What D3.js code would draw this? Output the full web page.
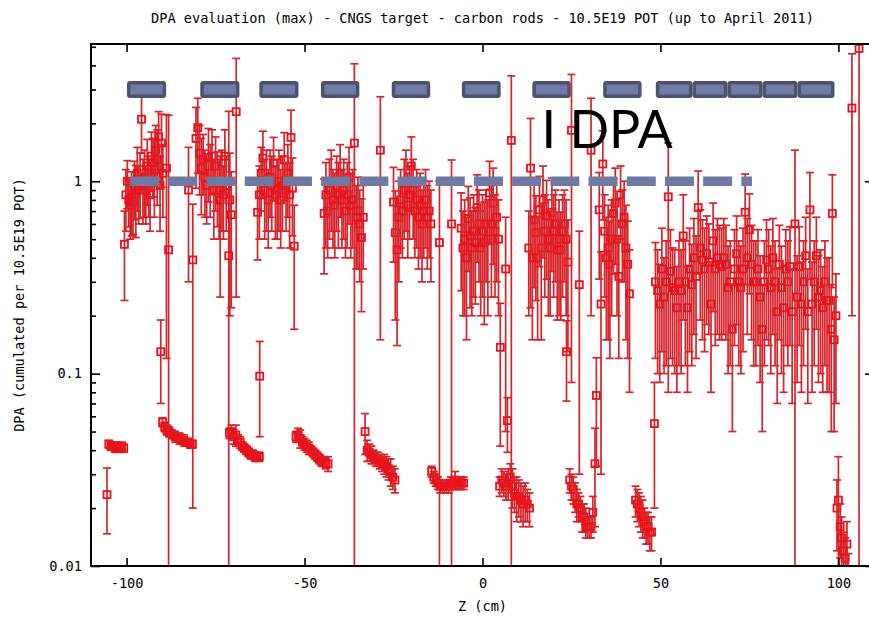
<!DOCTYPE html>
<html>
<head>
<meta charset="utf-8">
<script src="https://cdn.jsdelivr.net/npm/d3@7"></script>
<style>
  body { margin: 0; background: #fff; }
  svg { display: block; }
  .mono { font-family: "DejaVu Sans Mono", monospace; font-size: 13.6px; fill: #000; }
</style>
</head>
<body>
<div id="chart"></div>
<script>
// ---- tick values / labels
var xTicks = [-100, -50, 0, 50, 100];
var yTicks = [0.01, 0.1, 1];
var yTickLabels = ["0.01", "0.1", "1"];
var yMinorTicks = [0.02, 0.03, 0.04, 0.05, 0.06, 0.07, 0.08, 0.09,
                   0.2, 0.3, 0.4, 0.5, 0.6, 0.7, 0.8, 0.9, 2, 3, 4, 5];

// ---- annotations: rod boxes along the top, the 1 DPA dashed line
var boxSpans = [[-99.9, -88.9], [-79.3, -68.3], [-62.7, -51.7], [-45.4, -34.6],
                [-25.5, -14.7], [-5.8, 5.1], [14.0, 24.8], [33.9, 44.7],
                [48.7, 59.0], [59.0, 68.8], [68.8, 78.7], [78.7, 88.5], [88.5, 98.9]];
var boxLevel = 3;
var dashSpan = [-99, 75.7];
var dashLevel = 1;
var dpaLabel = "I DPA";
var dpaLabelPos = [16.6, 1.49];

// ---- data: [z (cm), DPA, error]
// upper clusters (one per rod)
var rodUpper = [
  // rod 1
  [-100.6,0.47,0.23],[-100.2,0.85,0.30],[-99.8,1.00,0.28],[-99.4,0.80,0.22],[-99.0,0.75,0.25],
  [-98.6,0.82,0.30],[-98.2,0.78,0.25],[-97.8,0.95,0.32],[-97.4,0.86,0.35],[-97.0,1.10,0.40],
  [-96.6,0.90,0.30],[-96.2,1.02,0.38],[-95.8,2.10,0.70],[-95.4,0.95,0.35],[-95.0,1.05,0.40],
  [-94.6,0.90,0.30],[-94.2,1.20,0.45],[-93.8,1.00,0.35],[-93.4,0.85,0.30],[-93.0,1.35,0.45],
  [-92.6,1.25,0.42],[-92.2,1.15,0.50],[-91.8,1.45,0.50],[-91.4,1.30,0.55],[-91.0,1.70,0.60],
  [-90.6,0.95,0.40],[-90.2,1.58,0.65],[-89.8,1.10,0.45],
  // rod 2
  [-82.6,0.90,0.60],[-80.5,1.67,0.75],[-80.0,1.90,0.80],[-79.5,1.40,0.55],[-79.0,1.17,0.50],
  [-78.5,1.30,0.45],[-78.0,1.05,0.40],[-77.5,0.95,0.35],[-77.0,1.33,0.55],[-76.5,1.10,0.45],
  [-76.0,1.35,0.50],[-75.5,0.90,0.40],[-75.0,1.20,0.50],[-74.5,1.00,0.42],[-74.0,0.90,0.40],
  [-73.7,0.80,0.55],[-73.2,1.00,0.45],[-72.8,0.85,0.35],[-72.4,1.35,0.50],[-72.0,0.95,0.40],
  [-71.0,0.80,0.60],[-70.6,0.67,0.45],
  // rod 3
  [-63.2,0.69,0.30],[-62.7,0.85,0.35],[-62.2,1.10,0.40],[-61.7,1.32,0.50],[-61.2,0.90,0.40],
  [-60.7,1.00,0.45],[-60.2,0.80,0.35],[-59.7,1.05,0.40],[-59.2,0.95,0.40],[-58.7,1.24,0.45],
  [-58.2,0.85,0.35],[-57.7,0.90,0.40],[-57.2,1.00,0.45],[-56.7,0.80,0.35],[-56.2,0.95,0.40],
  [-55.7,1.29,0.50],[-55.2,0.90,0.35],[-54.7,1.10,0.45],[-54.2,0.85,0.40],[-53.8,1.69,0.65],
  [-53.4,0.92,0.40],
  // rod 4
  [-44.5,0.68,0.35],[-44.0,0.85,0.40],[-43.5,0.70,0.30],[-43.0,0.90,0.40],[-42.5,1.00,0.45],
  [-42.0,0.80,0.35],[-41.5,0.75,0.35],[-41.0,0.95,0.40],[-40.5,0.85,0.40],[-40.0,1.10,0.45],
  [-39.5,0.80,0.35],[-39.0,0.90,0.40],[-38.5,0.70,0.30],[-38.0,0.85,0.40],[-37.5,1.05,0.45],
  [-37.0,0.75,0.35],[-36.5,0.80,0.35],[-35.5,0.65,0.30],[-35.0,0.70,0.35],[-34.5,0.60,0.30],
  [-34.0,0.51,0.30],[-33.5,0.65,0.30],
  // rod 5
  [-25.0,0.78,0.40],[-24.5,0.54,0.35],[-24.0,0.44,0.30],[-23.5,0.65,0.35],[-23.0,0.80,0.35],
  [-22.5,0.70,0.30],[-22.0,0.90,0.40],[-21.5,1.00,0.45],[-21.0,0.75,0.35],[-20.5,0.85,0.35],
  [-20.0,1.20,0.50],[-19.5,0.90,0.40],[-19.0,0.70,0.30],[-18.5,0.80,0.35],[-18.0,0.65,0.30],
  [-17.5,0.75,0.35],[-17.0,0.60,0.30],[-16.5,0.70,0.30],[-16.0,0.80,0.35],[-15.5,0.65,0.30],
  [-15.0,0.70,0.30],[-14.5,0.60,0.30],
  // rod 6
  [-6.0,0.57,0.30],[-5.5,0.45,0.25],[-5.0,0.50,0.30],[-4.5,0.40,0.25],[-4.0,0.64,0.30],
  [-3.5,0.52,0.30],[-3.0,0.45,0.25],[-2.5,0.55,0.30],[-2.0,0.48,0.25],[-1.5,0.73,0.35],
  [-1.0,0.60,0.30],[-0.5,0.45,0.25],[0.0,0.55,0.30],[0.5,0.48,0.30],[1.0,0.60,0.30],
  [1.5,0.50,0.30],[2.0,0.87,0.40],[2.5,0.60,0.35],[3.0,0.77,0.40],[3.5,0.55,0.30],
  [4.0,0.65,0.35],[4.5,0.50,0.30],
  // rod 7
  [13.0,0.45,0.25],[14.0,0.40,0.25],[14.5,0.63,0.35],[15.0,0.54,0.30],[15.5,0.40,0.25],
  [16.0,0.71,0.35],[16.5,0.45,0.30],[17.0,0.80,0.40],[17.5,0.55,0.30],[18.0,0.66,0.35],
  [18.5,0.50,0.30],[19.0,0.45,0.25],[19.5,0.69,0.35],[20.0,0.55,0.30],[20.5,0.60,0.30],
  [21.0,0.44,0.25],[21.5,0.50,0.30],[22.0,0.44,0.25],[22.5,0.55,0.30],[23.0,0.60,0.30],
  [23.5,0.50,0.30],[24.0,0.38,0.25],
  // rod 8
  [32.8,0.71,0.40],[33.3,0.23,0.20],[33.8,1.23,0.60],[34.3,0.55,0.30],[34.8,0.40,0.25],
  [35.3,0.45,0.30],[35.8,0.37,0.25],[36.3,0.50,0.30],[36.8,0.68,0.35],[37.3,0.77,0.40],
  [37.8,0.50,0.30],[38.3,0.32,0.20],[38.8,0.85,0.35],[39.3,0.60,0.30],[39.8,0.65,0.35],
  [40.3,0.45,0.30],[40.8,0.37,0.25],[41.3,0.26,0.18],
  // rod 9
  [48.6,0.30,0.18],[49.2,0.27,0.17],[49.8,0.23,0.14],[50.4,0.35,0.22],[51.0,0.25,0.15],
  [51.6,0.30,0.19],[52.2,0.83,0.75],[52.8,0.34,0.22],[53.4,0.28,0.17],[54.0,0.27,0.17],
  [54.6,0.22,0.14],[55.2,0.30,0.19],[55.8,0.27,0.17],[56.4,0.52,0.33],[57.0,0.30,0.19],
  [57.6,0.22,0.14],[58.2,0.35,0.22],[58.8,0.29,0.18],[59.4,0.40,0.24],[60.0,0.32,0.20],
  [60.6,0.73,0.40],[61.2,0.45,0.26],[61.8,0.39,0.24],[62.4,0.35,0.22],[63.0,0.42,0.24],
  [63.6,0.38,0.22],[64.2,0.23,0.15],[64.8,0.49,0.28],[65.4,0.35,0.21],[66.0,0.40,0.24],
  [66.6,0.37,0.22],[67.2,0.36,0.21],[67.8,0.40,0.24],[68.4,0.37,0.22],[69.0,0.28,0.18],
  [69.6,0.30,0.19],[70.2,0.17,0.12],[70.8,0.35,0.21],[71.4,0.42,0.24],[72.0,0.30,0.19],
  [72.6,0.28,0.18],[73.2,0.35,0.22],[73.8,0.69,0.40],[74.4,0.40,0.24],[75.0,0.56,0.30],
  [75.6,0.37,0.22],[76.2,0.30,0.19],[76.8,0.30,0.19],[77.4,0.35,0.21],[78.0,0.25,0.16],
  [78.6,0.17,0.12],[79.2,0.30,0.19],[79.8,0.39,0.24],[80.4,0.35,0.21],[81.0,0.28,0.18],
  [81.6,0.40,0.24],[82.2,0.30,0.19],[82.8,0.21,0.14],[83.4,0.37,0.22],[84.0,0.28,0.18],
  [84.6,0.22,0.14],[85.2,0.35,0.21],[85.8,0.30,0.19],[86.4,0.36,0.22],[87.0,0.21,0.14],
  [88.4,0.25,0.16],[89.0,0.36,0.22],[89.6,0.23,0.15],[90.2,0.30,0.19],[90.8,0.41,0.24],
  [91.4,0.21,0.14],[92.0,0.71,0.40],[92.6,0.23,0.15],[93.2,0.30,0.19],[93.8,0.41,0.24],
  [94.4,0.25,0.16],[95.0,0.27,0.17],[95.6,0.22,0.14],[96.2,0.30,0.19],[96.8,0.24,0.16],
  [97.4,0.24,0.16],[98.0,0.17,0.12],[98.3,0.68,0.40],[98.8,0.15,0.10],[99.3,0.20,0.13]
];

// lower clusters (tail of each rod)
var rodTail = [
  [-105.5,0.0235,0.0088],
  [-105.0,0.043,0.002],[-104.4,0.042,0.002],[-103.8,0.042,0.002],[-103.2,0.041,0.002],
  [-102.6,0.042,0.002],[-102.0,0.041,0.002],[-101.4,0.042,0.002],[-100.8,0.041,0.002],
  // rod 1
  [-89.9,0.056,0.003],[-89.3,0.053,0.003],[-88.7,0.051,0.003],[-88.1,0.050,0.003],[-87.5,0.049,0.002],
  [-86.9,0.048,0.002],[-86.3,0.047,0.003],[-85.7,0.047,0.002],[-85.1,0.046,0.003],[-84.5,0.045,0.002],
  [-83.9,0.045,0.003],[-83.3,0.044,0.002],[-82.7,0.044,0.002],[-82.1,0.043,0.002],[-81.5,0.043,0.002],
  // rod 2
  [-71.1,0.049,0.003],[-70.5,0.050,0.004],[-69.9,0.047,0.004],[-69.3,0.048,0.006],[-68.7,0.045,0.003],
  [-68.1,0.044,0.003],[-67.5,0.042,0.002],[-66.9,0.041,0.002],[-66.3,0.040,0.002],[-65.7,0.039,0.002],
  [-65.1,0.038,0.002],[-64.5,0.038,0.002],[-63.9,0.037,0.002],[-63.3,0.037,0.002],[-62.7,0.037,0.002],
  // rod 3
  [-52.4,0.047,0.003],[-51.8,0.048,0.004],[-51.2,0.046,0.005],[-50.6,0.044,0.003],[-50.0,0.043,0.003],
  [-49.4,0.042,0.003],[-48.8,0.041,0.003],[-48.2,0.040,0.002],[-47.6,0.039,0.002],[-47.0,0.038,0.002],
  [-46.4,0.037,0.002],[-45.8,0.036,0.002],[-45.2,0.035,0.002],[-44.6,0.035,0.002],[-44.0,0.034,0.002],
  [-43.4,0.034,0.003],
  // rod 4
  [-33.0,0.050,0.012],[-32.4,0.040,0.005],[-31.8,0.039,0.004],[-31.2,0.038,0.004],[-30.6,0.037,0.003],
  [-30.0,0.036,0.003],[-29.4,0.036,0.003],[-28.8,0.035,0.003],[-28.2,0.034,0.003],[-27.6,0.034,0.004],
  [-27.0,0.033,0.004],[-26.4,0.032,0.004],[-25.8,0.031,0.005],[-25.2,0.029,0.004],[-24.6,0.028,0.004],
  // rod 5
  [-14.3,0.031,0.002],[-13.7,0.029,0.002],[-13.1,0.028,0.002],[-12.5,0.027,0.002],[-11.9,0.026,0.002],
  [-11.3,0.026,0.002],[-10.7,0.026,0.002],[-10.1,0.026,0.002],[-9.5,0.026,0.002],[-8.9,0.027,0.002],
  [-8.3,0.027,0.002],[-7.7,0.028,0.003],[-7.1,0.027,0.002],[-6.5,0.027,0.002],[-5.9,0.027,0.002],
  [-5.3,0.027,0.002],
  // rod 6
  [4.8,0.026,0.003],[5.4,0.028,0.004],[6.0,0.027,0.004],[6.6,0.026,0.004],[7.2,0.027,0.005],
  [7.8,0.029,0.005],[8.4,0.026,0.006],[9.0,0.024,0.005],[9.6,0.023,0.006],[10.2,0.023,0.005],
  [10.8,0.022,0.005],[11.4,0.021,0.005],[12.0,0.022,0.005],[12.6,0.021,0.004],[13.2,0.020,0.004],
  // rod 7
  [24.5,0.028,0.004],[25.0,0.026,0.004],[25.5,0.025,0.004],[26.0,0.023,0.004],[26.5,0.021,0.004],
  [27.0,0.021,0.003],[27.5,0.020,0.003],[28.0,0.018,0.003],[28.5,0.018,0.003],[29.0,0.017,0.003],
  [29.5,0.016,0.002],[30.0,0.016,0.002],[30.5,0.016,0.002],[31.0,0.019,0.004],
  // rod 8
  [43.0,0.022,0.004],[43.5,0.021,0.004],[44.0,0.020,0.004],[44.5,0.019,0.004],[45.0,0.018,0.004],
  [45.5,0.017,0.003],[46.0,0.016,0.003],[46.5,0.016,0.003],[47.0,0.015,0.003],[47.5,0.015,0.003],
  // rod 9
  [99.6,0.020,0.008],[100.0,0.022,0.015],[100.5,0.016,0.005],[100.9,0.014,0.004],[101.4,0.012,0.003],
  [101.9,0.011,0.003],[102.4,0.013,0.004],[102.8,0.0096,0.002]
];

// isolated points with large errors
var spikes = [
  [-90.4,0.13,0.06],[-88.8,1.17,1.05],[-88.2,0.44,1.76],
  [-81.4,0.39,0.37],[-71.3,0.41,1.90],[-69.2,2.30,2.05],
  [-62.6,0.097,0.05],[-52.9,0.46,0.29],
  [-36.0,1.58,2.50],[-28.7,1.45,1.30],
  [-12.1,0.48,0.52],[-8.7,0.60,0.69],
  [5.0,0.137,0.095],[6.5,0.35,0.30],[7.0,0.057,0.018],[8.1,1.63,1.90],
  [13.5,1.17,0.95],[23.6,0.13,0.058],[25.0,1.84,1.75],[27.2,0.29,0.26],
  [30.5,1.45,1.25],[31.6,0.034,0.018],[32.0,0.077,0.044],
  [48.3,0.055,0.035],[87.8,0.60,0.85],
  [103.8,2.40,2.20],[105.8,4.90,5.00]
];

var W = 869, H = 618;
var margin = {top: 44, right: 874, bottom: 566, left: 91};
var yMin = 0.01, yMax = 5.17;

var x = d3.scaleLinear().domain([-110, 110]).range([margin.left, margin.right]);
var y = d3.scaleLog().domain([yMin, yMax]).range([margin.bottom, margin.top]);

var svg = d3.select("#chart").append("svg")
  .attr("width", W).attr("height", H);

svg.append("defs").append("clipPath").attr("id", "plotclip")
  .append("rect")
  .attr("x", margin.left).attr("y", margin.top)
  .attr("width", margin.right - margin.left)
  .attr("height", margin.bottom - margin.top);

// title
svg.append("text").attr("class", "mono")
  .attr("x", (margin.left + margin.right) / 2).attr("y", 23)
  .attr("text-anchor", "middle")
  .text("DPA evaluation (max) - CNGS target - carbon rods - 10.5E19 POT (up to April 2011)");

// points with error bars
var plot = svg.append("g").attr("clip-path", "url(#plotclip)");
var barColor = "#d8222a", pointColor = "#ec1018";

function drawPoints(data) {
  var g = plot.selectAll(null).data(data).enter().append("g");
  g.each(function(d) {
    var sel = d3.select(this);
    var cx = x(d[0]);
    var lo = d[1] - d[2], hi = d[1] + d[2];
    var y1 = lo > yMin ? y(lo) : margin.bottom + 5;
    var y2 = hi < yMax ? y(hi) : margin.top - 5;
    sel.append("line")
      .attr("x1", cx).attr("x2", cx).attr("y1", y1).attr("y2", y2)
      .attr("stroke", barColor).attr("stroke-width", 1.7);
    if (lo > yMin) {
      sel.append("line").attr("x1", cx - 4).attr("x2", cx + 4)
        .attr("y1", y1).attr("y2", y1)
        .attr("stroke", barColor).attr("stroke-width", 1.7);
    }
    if (hi < yMax) {
      sel.append("line").attr("x1", cx - 4).attr("x2", cx + 4)
        .attr("y1", y2).attr("y2", y2)
        .attr("stroke", barColor).attr("stroke-width", 1.7);
    }
    sel.append("rect")
      .attr("x", cx - 3.5).attr("y", y(d[1]) - 3.5)
      .attr("width", 7).attr("height", 7)
      .attr("fill", "none").attr("stroke", pointColor).attr("stroke-width", 1.8);
  });
}
drawPoints(rodTail);
drawPoints(rodUpper);
drawPoints(spikes);

// axes (gnuplot style: ticks inside, mirrored)
function styleAxis(g) {
  g.select(".domain").remove();
  g.selectAll(".tick line").attr("stroke", "#000").attr("stroke-width", 1.6);
  g.selectAll(".tick text").attr("class", "mono").attr("fill", "#000");
}

svg.append("g").attr("transform", "translate(0," + margin.bottom + ")")
  .call(d3.axisBottom(x).tickValues(xTicks).tickSize(-8).tickPadding(12)
    .tickFormat(function(d) { return String(d); }))
  .call(styleAxis);
svg.append("g").attr("transform", "translate(0," + margin.top + ")")
  .call(d3.axisTop(x).tickValues(xTicks).tickSize(-8).tickFormat(""))
  .call(styleAxis);

svg.append("g").attr("transform", "translate(" + margin.left + ",0)")
  .call(d3.axisLeft(y).tickValues(yTicks).tickSize(-9).tickPadding(9)
    .tickFormat(function(d, i) { return yTickLabels[i]; }))
  .call(styleAxis);
svg.append("g").attr("transform", "translate(" + margin.left + ",0)")
  .call(d3.axisLeft(y).tickValues(yMinorTicks).tickSize(-5).tickFormat(""))
  .call(styleAxis);
svg.append("g").attr("transform", "translate(" + margin.right + ",0)")
  .call(d3.axisRight(y).tickValues(yTicks).tickSize(-9).tickFormat(""))
  .call(styleAxis);
svg.append("g").attr("transform", "translate(" + margin.right + ",0)")
  .call(d3.axisRight(y).tickValues(yMinorTicks).tickSize(-5).tickFormat(""))
  .call(styleAxis);

// frame
svg.append("rect")
  .attr("x", margin.left).attr("y", margin.top)
  .attr("width", margin.right - margin.left)
  .attr("height", margin.bottom - margin.top)
  .attr("fill", "none").attr("stroke", "#000").attr("stroke-width", 2);

// axis titles
svg.append("text").attr("class", "mono")
  .attr("x", (margin.left + margin.right) / 2).attr("y", 611)
  .attr("text-anchor", "middle").text("Z (cm)");
svg.append("text").attr("class", "mono")
  .attr("transform", "translate(24," + (margin.top + margin.bottom) / 2 + ") rotate(-90)")
  .attr("text-anchor", "middle").text("DPA (cumulated per 10.5E19 POT)");

// annotation: rod boxes
var boxes = svg.append("g");
boxSpans.forEach(function(s) {
  var x0 = x(s[0]), x1 = x(s[1]), yc = y(boxLevel);
  boxes.append("rect")
    .attr("x", x0).attr("y", yc - 8.5).attr("width", x1 - x0).attr("height", 17)
    .attr("rx", 3).attr("fill", "#4c536f");
  boxes.append("rect")
    .attr("x", x0 + 3.5).attr("y", yc - 5).attr("width", x1 - x0 - 7).attr("height", 10)
    .attr("fill", "#717ba5");
});

// annotation: 1 DPA dashed line
svg.append("line")
  .attr("x1", x(dashSpan[0])).attr("x2", x(dashSpan[1]))
  .attr("y1", y(dashLevel)).attr("y2", y(dashLevel))
  .attr("stroke", "#6f79a2").attr("stroke-width", 9.5)
  .attr("stroke-dasharray", "29,9.2");

svg.append("text")
  .attr("x", x(dpaLabelPos[0])).attr("y", y(dpaLabelPos[1]))
  .attr("font-family", "Lato, 'Open Sans', sans-serif")
  .attr("font-size", 52).attr("fill", "#000")
  .text(dpaLabel);
</script>
</body>
</html>
